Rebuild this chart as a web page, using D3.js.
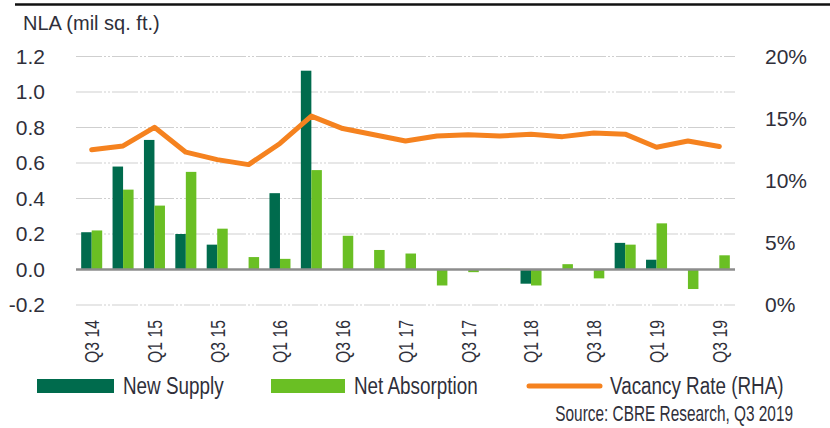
<!DOCTYPE html>
<html lang="en">
	<head>
		<meta charset="utf-8">
		<title>NLA new supply, net absorption and vacancy</title>
		<script src="https://d3js.org/d3.v7.min.js"></script>
		<style type="text/css">
			body {
				margin: 0;
				background: #fff;
			}
			.tick-num {
				font-family: "Liberation Sans", Arial, sans-serif;
				font-size: 21px;
				fill: #2f2f3a;
			}
			.narrow {
				font-family: "Liberation Sans", Arial, sans-serif;
				fill: #2f2f3a;
			}
		</style>
	</head>
	<body>
		<script type="text/javascript">
			//Data
			var quarters = ["Q3 14","Q4 14","Q1 15","Q2 15","Q3 15","Q4 15","Q1 16","Q2 16","Q3 16","Q4 16",
				"Q1 17","Q2 17","Q3 17","Q4 17","Q1 18","Q2 18","Q3 18","Q4 18","Q1 19","Q2 19","Q3 19"];
			var newSupply = [0.21, 0.58, 0.73, 0.20, 0.14, 0, 0.43, 1.12, 0, 0,
				0, 0, 0, 0, -0.08, 0, 0, 0.15, 0.055, 0, 0];
			var netAbsorption = [0.22, 0.45, 0.36, 0.55, 0.23, 0.07, 0.06, 0.56, 0.19, 0.11,
				0.09, -0.09, -0.015, 0.004, -0.09, 0.03, -0.05, 0.14, 0.26, -0.11, 0.08];
			var vacancy = [12.5, 12.8, 14.3, 12.3, 11.7, 11.3, 13.0, 15.2, 14.2, 13.7,
				13.2, 13.6, 13.7, 13.6, 13.75, 13.55, 13.85, 13.75, 12.7, 13.2, 12.75];
			var leftTicks = [-0.2, 0, 0.2, 0.4, 0.6, 0.8, 1.0, 1.2];
			var rightTicks = [0, 5, 10, 15, 20];
			var seriesNames = ["New Supply", "Net Absorption", "Vacancy Rate (RHA)"];

			//Width and height
			var w = 830;
			var h = 428;

			var darkGreen = "#006b4d";
			var lightGreen = "#6abf24";
			var orange = "#f5821f";

			var svg = d3.select("body")
				.append("svg")
				.attr("width", w)
				.attr("height", h);

			//Scales
			var x0 = d3.scaleBand()
				.domain(quarters)
				.range([76, 735])
				.paddingInner(0.33)
				.paddingOuter(0.165);

			var x1 = d3.scaleBand()
				.domain(["supply", "absorption"])
				.range([0, x0.bandwidth()]);

			var y = d3.scaleLinear()
				.domain([-0.2, 1.2])
				.range([305, 56.5]);

			var y2 = d3.scaleLinear()
				.domain([0, 20])
				.range([305, 56.5]);

			//Top rule
			svg.append("line")
				.attr("x1", 15).attr("x2", w)
				.attr("y1", 4.5).attr("y2", 4.5)
				.attr("stroke", "#111")
				.attr("stroke-width", 2.5);

			//Gridlines
			svg.append("g")
				.selectAll("line")
				.data(leftTicks)
				.enter()
				.append("line")
				.attr("x1", x0.range()[0])
				.attr("x2", x0.range()[1])
				.attr("y1", function(d) { return y(d); })
				.attr("y2", function(d) { return y(d); })
				.attr("stroke", "#cfcfcf")
				.attr("stroke-width", 1.2)
				.attr("stroke-dasharray", "26,2,2,2,2,2");

			//Left axis
			var yAxis = svg.append("g")
				.attr("transform", "translate(45,0)")
				.call(d3.axisLeft(y).tickValues(leftTicks).tickSize(0).tickPadding(0)
					.tickFormat(function(d) { return d3.format(".1f")(d).replace("−", "-"); }));
			yAxis.select(".domain").remove();
			yAxis.selectAll("text")
				.attr("class", "tick-num")
				.attr("font-family", null)
				.attr("font-size", null)
				.attr("fill", null);

			//Right axis
			var yAxis2 = svg.append("g")
				.attr("transform", "translate(765,0)")
				.call(d3.axisRight(y2).tickValues(rightTicks).tickSize(0).tickPadding(0)
					.tickFormat(function(d) { return d + "%"; }));
			yAxis2.select(".domain").remove();
			yAxis2.selectAll("text")
				.attr("class", "tick-num")
				.attr("font-family", null)
				.attr("font-size", null)
				.attr("fill", null);

			//Axis title
			svg.append("text")
				.attr("class", "tick-num")
				.attr("x", 23)
				.attr("y", 30)
				.style("font-size", "20px")
				.text("NLA (mil sq. ft.)");

			//Bars
			var groups = svg.append("g")
				.selectAll("g")
				.data(quarters)
				.enter()
				.append("g")
				.attr("transform", function(d) { return "translate(" + x0(d) + ",0)"; });

			groups.append("rect")
				.attr("x", x1("supply"))
				.attr("width", x1.bandwidth())
				.attr("y", function(d, i) { return y(Math.max(0, newSupply[i])); })
				.attr("height", function(d, i) { return Math.abs(y(newSupply[i]) - y(0)); })
				.attr("fill", darkGreen);

			groups.append("rect")
				.attr("x", x1("absorption"))
				.attr("width", x1.bandwidth())
				.attr("y", function(d, i) { return y(Math.max(0, netAbsorption[i])); })
				.attr("height", function(d, i) { return Math.abs(y(netAbsorption[i]) - y(0)); })
				.attr("fill", lightGreen);

			//Zero line
			svg.append("line")
				.attr("x1", x0.range()[0])
				.attr("x2", x0.range()[1])
				.attr("y1", y(0))
				.attr("y2", y(0))
				.attr("stroke", "#8c8c8c")
				.attr("stroke-width", 2.5);

			//Vacancy line
			var line = d3.line()
				.x(function(d, i) { return x0(quarters[i]) + x0.bandwidth() / 2; })
				.y(function(d) { return y2(d); });

			svg.append("path")
				.datum(vacancy)
				.attr("d", line)
				.attr("fill", "none")
				.attr("stroke", orange)
				.attr("stroke-width", 5)
				.attr("stroke-linejoin", "round")
				.attr("stroke-linecap", "round");

			//X labels, every other quarter (condensed by a horizontal squeeze)
			svg.append("g")
				.selectAll("text")
				.data(quarters.filter(function(d, i) { return i % 2 == 0; }))
				.enter()
				.append("text")
				.attr("class", "narrow")
				.attr("transform", function(d) {
					return "translate(" + (x0(d) + x0.bandwidth() / 2) + ",320) rotate(-90) scale(0.75,1)";
				})
				.attr("text-anchor", "end")
				.attr("dy", "0.35em")
				.style("font-size", "21px")
				.text(function(d) { return d; });

			//Legend
			var legend = svg.append("g");

			legend.append("rect")
				.attr("x", 37).attr("y", 379)
				.attr("width", 77).attr("height", 14)
				.attr("fill", darkGreen);
			legend.append("rect")
				.attr("x", 271).attr("y", 379)
				.attr("width", 74).attr("height", 14)
				.attr("fill", lightGreen);
			legend.append("line")
				.attr("x1", 529).attr("x2", 600)
				.attr("y1", 386).attr("y2", 386)
				.attr("stroke", orange)
				.attr("stroke-width", 5)
				.attr("stroke-linecap", "round");

			var legendX = [123, 354, 610];
			legend.selectAll("text")
				.data(seriesNames)
				.enter()
				.append("text")
				.attr("class", "narrow")
				.attr("transform", function(d, i) { return "translate(" + legendX[i] + ",394) scale(0.82,1)"; })
				.style("font-size", "23px")
				.text(function(d) { return d; });

			//Source
			svg.append("text")
				.attr("class", "narrow")
				.attr("transform", "translate(793,421) scale(0.7,1)")
				.attr("text-anchor", "end")
				.style("font-size", "22px")
				.text("Source:  CBRE Research, Q3 2019");

		</script>
	</body>
</html>
